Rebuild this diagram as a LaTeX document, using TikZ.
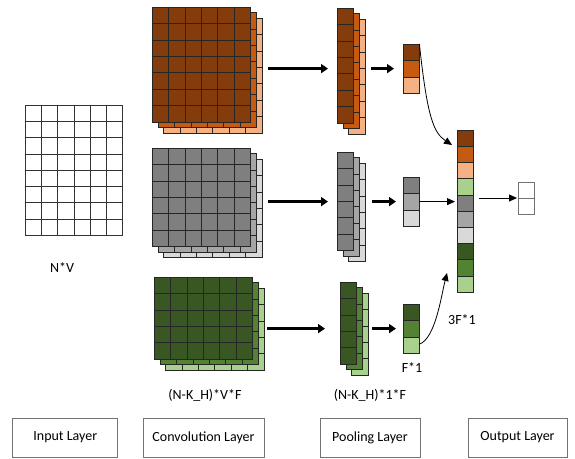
\documentclass[tikz,border=0pt]{standalone}
\usepackage{fontspec}
\setmainfont{Carlito}
\usetikzlibrary{arrows.meta,positioning}

\definecolor{brownA}{HTML}{843C0C}
\definecolor{brownB}{HTML}{C55A11}
\definecolor{brownC}{HTML}{F4B183}
\definecolor{grayA}{HTML}{7F7F7F}
\definecolor{grayB}{HTML}{A5A5A5}
\definecolor{grayC}{HTML}{D9D9D9}
\definecolor{greenA}{HTML}{385723}
\definecolor{greenB}{HTML}{548235}
\definecolor{greenC}{HTML}{A9D18E}

% grid of cells: x, y, cols, rows, fill, cell size
\newcommand{\cellgrid}[6]{%
  \foreach \i in {1,...,#3}
    \foreach \j in {1,...,#4}
      \draw[cell, fill=#5] ({#1+(\i-1)*#6},{#2+(\j-1)*#6}) rectangle ++(#6,#6);
}
% three stacked feature maps: name, x, y, cols, rows, front, middle, back
\newcommand{\layerstack}[8]{%
  \cellgrid{#2+11.5}{#3+11}{#4}{#5}{#8}{16.4}
  \cellgrid{#2+6}{#3+5.5}{#4}{#5}{#7}{16.4}
  \cellgrid{#2}{#3}{#4}{#5}{#6}{16.4}
  \node[frame, minimum width=#4*16.4pt, minimum height=#5*16.4pt] (#1) at (#2,#3) {};
}
% single column vector: name, x, y, cell size, cells, colours
\newcommand{\vcolumn}[6]{%
  \foreach \col [count=\k] in {#6}
    \draw[cell, fill=\col] (#2,{#3+(\k-1)*#4}) rectangle ++(#4,#4);
  \node[frame, minimum width=#4pt, minimum height=#5*#4pt] (#1) at (#2,#3) {};
}

\begin{document}
\begin{tikzpicture}[
	x=1pt, y=-1pt,
	cell/.style={draw=black!85, line width=0.6pt},
	frame/.style={inner sep=0pt, outer sep=0pt, anchor=north west},
	lbl/.style={font=\fontsize{14}{16}\selectfont},
	layerbox/.style={draw=black!55, line width=0.8pt, minimum height=39pt,
	font=\fontsize{14}{16}\selectfont},
	fatarrow/.style={line width=3pt, -{Triangle[length=7pt,width=9pt]}},
	thinarrow/.style={line width=0.8pt, -{Triangle[length=8pt,width=7pt]}}
	]
	\useasboundingbox (0,0) rectangle (575,458);

	% input matrix
	\begin{scope}[cell/.style={draw=black!80, line width=0.7pt}]
	\cellgrid{25}{105}{6}{8}{white}{16.3}
	\end{scope}
	\node[frame, minimum width=97.8pt, minimum height=130.4pt] (input) at (25,105) {};

	% convolution feature maps
	\layerstack{convB}{152}{7}{6}{7}{brownA}{brownB}{brownC}
	\layerstack{convG}{152}{148}{6}{6}{grayA}{grayB}{grayC}
	\layerstack{convN}{154}{277}{6}{5}{greenA}{greenB}{greenC}

	% pooled maps
	\layerstack{poolB}{337}{8}{1}{7}{brownA}{brownB}{brownC}
	\layerstack{poolG}{337}{152}{1}{6}{grayA}{grayB}{grayC}
	\layerstack{poolN}{340}{282}{1}{5}{greenA}{greenB}{greenC}

	% max pooled vectors
	\vcolumn{vecB}{403}{44}{16.4}{3}{brownA,brownB,brownC}
	\vcolumn{vecG}{403}{177}{16.4}{3}{grayA,grayB,grayC}
	\vcolumn{vecN}{403}{304}{16.4}{3}{greenA,greenB,greenC}

	% concatenation and output
	\vcolumn{concat}{457}{130}{16.2}{10}{brownA,brownB,brownC,greenC,grayA,grayB,grayC,greenA,greenB,greenC}
	\begin{scope}[cell/.style={draw=black!55, line width=0.8pt}]
	\vcolumn{out}{518}{182}{16}{2}{white,white}
	\end{scope}

	\coordinate (inB) at (452,145);
	\coordinate (inN) at (447,273);

	\draw[fatarrow, shorten <=18pt, shorten >=9pt] (convB.east |- vecB.west) to (poolB.west |- vecB.west);
	\draw[fatarrow, shorten <=18pt, shorten >=9pt] (convG.east |- vecG.west) to (poolG.west |- vecG.west);
	\draw[fatarrow, shorten <=15pt, shorten >=15pt] (convN.east |- vecN.west) to (poolN.west |- vecN.west);

	\draw[fatarrow, shorten <=18pt, shorten >=9pt] (poolB.east |- vecB.west) to (vecB.west);
	\draw[fatarrow, shorten <=19pt, shorten >=7pt] (poolG.east |- vecG.west) to (vecG.west);
	\draw[fatarrow, shorten <=16pt, shorten >=7pt] (poolN.east |- vecN.west) to (vecN.west);

	\draw[thinarrow] (vecB.north east) .. controls +(8,75) and +(-18,-12) .. (inB);
	\draw[thinarrow, shorten >=2pt] (vecG.east) to (vecG.east -| concat.west);
	\draw[thinarrow] ([yshift=9pt]vecN.south east) .. controls +(16,-6) and +(-6,24) .. (inN);
	\draw[thinarrow, shorten <=6pt, shorten >=1pt] (concat.east |- out.west) to (out.west);

	% sizes
	\node[lbl] (nv) at (62,268) {N*V};
	\node[lbl] (convsize) at (205,395) {(N-K\_H)*V*F};
	\node[lbl] (poolsize) at (370,395) {(N-K\_H)*1*F};
	\node[lbl] (vecsize) at (412,368) {F*1};
	\node[lbl] (catsize) at (462,320) {3F*1};

	% layer captions
	\node[layerbox, minimum width=105pt] (inlayer) at (65.3,437.5) {Input Layer};
	\node[layerbox, minimum width=121pt] (convlayer) at (203.5,437.5) {Convolution Layer};
	\node[layerbox, minimum width=100pt] (poollayer) at (370,437.5) {Pooling Layer};
	\node[layerbox, minimum width=99pt] (outlayer) at (517.5,437.5) {Output Layer};
\end{tikzpicture}
\end{document}
